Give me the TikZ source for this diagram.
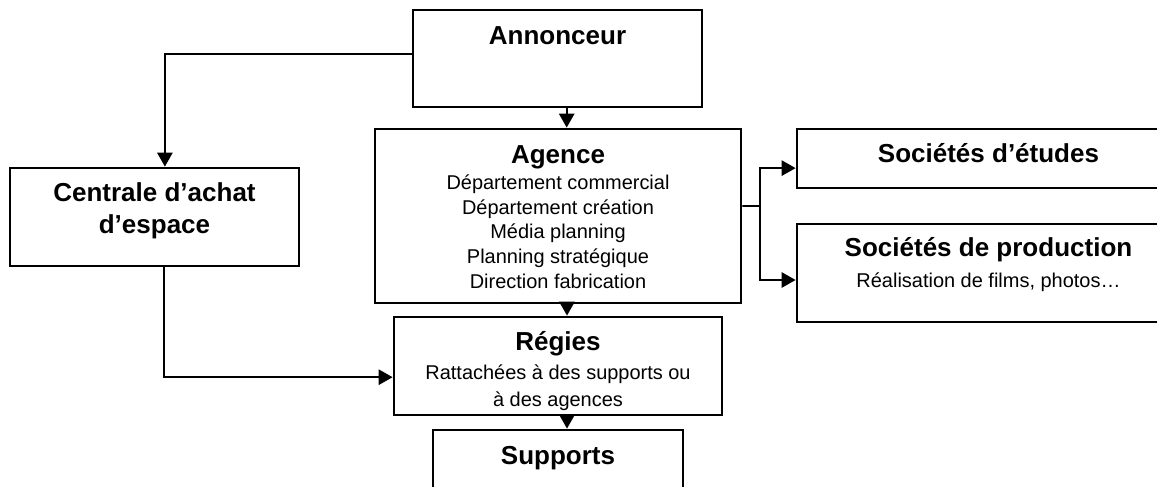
\documentclass[tikz,border=0pt]{standalone}
\usepackage{fontspec}
\setmainfont{Liberation Sans}
\usetikzlibrary{positioning,arrows.meta}
\tikzset{node distance=0.4cm,
  box/.style={draw, line width=2pt, inner sep=0pt},
  title/.style={font=\bfseries\fontsize{18.5}{22.8}\selectfont, align=center, inner sep=0pt},
  body/.style={font=\fontsize{14.2}{17.6}\selectfont, align=center, inner sep=0pt},
  link/.style={line width=1.2pt, -{Triangle[length=10pt,width=11pt]}}}

\begin{document}
\begin{tikzpicture}

             \useasboundingbox (0,0) rectangle (28.925,-12.15);

             \node (ann) [box, minimum width=7.225cm, minimum height=2.425cm] at (13.9375,-1.4625) {};
             \node (ag) [box, minimum width=9.15cm, minimum height=4.35cm] at (13.95,-5.4) {};
             \node (cen) [box, minimum width=7.225cm, minimum height=2.45cm] at (3.8625,-5.425) {};
             \node (etu) [box, minimum width=9.575cm, minimum height=1.475cm] at (24.7125,-3.9625) {};
             \node (prod) [box, minimum width=9.575cm, minimum height=2.45cm] at (24.7125,-6.825) {};
             \node (reg) [box, minimum width=8.2cm, minimum height=2.45cm] at (13.95,-9.15) {};
             \node (sup) [box, minimum width=6.25cm, minimum height=2.25cm] at (13.95,-11.875) {};

             \node (annT) [title, below=0.44cm of ann.north] {Annonceur};
             \node (agT) [title, below=0.44cm of ag.north] {Agence};
             \node (agB) [body, below=1.17cm of ag.north] {Département commercial\\Département création\\Média planning\\Planning stratégique\\Direction fabrication};
             \node (cenT) [title, below=0.39cm of cen.north] {Centrale d’achat\\d’espace};
             \node (etuT) [title, below=0.39cm of etu.north] {Sociétés d’études};
             \node (prodT) [title, below=0.37cm of prod.north] {Sociétés de production};
             \node (prodB) [body, below=1.26cm of prod.north] {Réalisation de films, photos…};
             \node (regT) [title, below=0.39cm of reg.north] {Régies};
             \node (regB) [body, below=1.23cm of reg.north] {Rattachées à des supports ou\\[1.5pt]à des agences};
             \node (supT) [title, below=0.44cm of sup.north] {Supports};

             \coordinate (fork) at (19.0,-5.15);

             \draw [link] ([yshift=0.11cm]ann.west) -| ([xshift=0.26cm]cen.north);
             \draw [link] ([xshift=0.23cm]ann.south) -- ([xshift=0.23cm]ann.south |- ag.north);
             \draw [link] ([xshift=0.225cm]ag.south) -- ([xshift=0.225cm]reg.north);
             \draw [link] ([xshift=0.225cm]reg.south) -- ([xshift=0.225cm]sup.north);
             \draw [link] ([xshift=0.24cm]cen.south) |- ([yshift=-0.28cm]reg.west);

             \draw [line width=1.2pt] ([yshift=0.25cm]ag.east) -- (fork);
             \draw [link] (fork) |- ([yshift=-0.24cm]etu.west);
             \draw [link] (fork) |- ([yshift=-0.175cm]prod.west);
          \end{tikzpicture}
\end{document}
